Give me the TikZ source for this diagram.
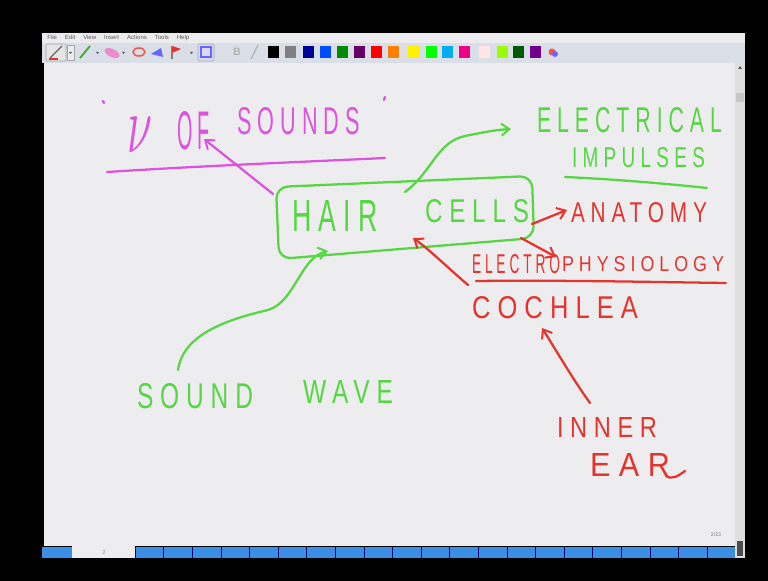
\documentclass[tikz,border=0pt]{standalone}
\usepackage{fontspec}
\setmainfont{Liberation Sans}
\newfontfamily\hwf{Liberation Sans}[LetterSpace=28]
\usetikzlibrary{arrows.meta}
\definecolor{mag}{RGB}{220,84,222}
\definecolor{grn}{RGB}{86,214,66}
\definecolor{rd}{RGB}{228,52,44}
\definecolor{board}{RGB}{237,237,240}
\definecolor{tbar}{RGB}{218,222,230}
\definecolor{mbar}{RGB}{236,236,238}
\definecolor{tabblue}{RGB}{58,142,228}
\newlength\pxu
\setlength\pxu{0.75pt}
\newcommand\hw[3]{\resizebox{#1\pxu}{#2\pxu}{\hwf #3\unskip}}
\tikzset{
  ink/.style={line width=1.7pt, line cap=round, line join=round},
  hand/.style={anchor=north west, inner sep=0pt, outer sep=0pt},
  arr/.style={ink, -{Straight Barb[length=6pt,width=9pt,line width=1.5pt]}},
  tri/.style={fill=gray!70!black}
}
\begin{document}
\begin{tikzpicture}[x=0.75pt,y=-0.75pt]
\useasboundingbox (0,0) rectangle (768,581);
\fill[black] (0,0) rectangle (768,581);
% window
\fill[mbar] (42,33) rectangle (745,43);
\fill[tbar] (42,43) rectangle (745,63);
\fill[board] (44,63) rectangle (735,546);
\fill[gray!25] (735,63) rectangle (745,558);
\fill[gray!45] (736,93) rectangle (744,102);
\fill[tri] (738,69) -- (742,69) -- (740,66) -- cycle;
\fill[gray!60!black] (737,541) rectangle (743,556);
% menu
\node[anchor=west, inner sep=0, font=\fontsize{4.5}{5}\selectfont, text=gray!70!black] (menu) at (47,38)
  {File\hspace{6pt}Edit\hspace{6pt}View\hspace{6pt}Insert\hspace{6pt}Actions\hspace{6pt}Tools\hspace{6pt}Help};
% toolbar icons
\draw[gray!70, fill=gray!20, rounded corners=1pt] (46,44) rectangle (66,61);
\draw[line width=1pt, gray!80!black] (50,58) -- (62,46);
\draw[line width=0.8pt, rd] (49,59) -- (58,59);
\draw[gray!70, fill=gray!15] (67,45) rectangle (74,60);
\fill[tri] (69,52) -- (72,52) -- (70.5,54) -- cycle;
\draw[line width=1.4pt, grn!80!black] (80,58) -- (90,46);
\fill[tri] (96,52) -- (99,52) -- (97.5,54) -- cycle;
\fill[mag!50!pink, rotate around={-25:(112,53)}] (112,53) ellipse (8 and 4);
\fill[tri] (122,52) -- (125,52) -- (123.5,54) -- cycle;
\draw[rd!80, line width=1.2pt] (139,52) ellipse (6 and 4);
\fill[blue!60] (151,54) -- (161,48) -- (163,57) -- cycle;
\draw[line width=0.8pt, gray] (172,59) -- (172,46);
\fill[rd] (172,46) -- (181,49) -- (172,53) -- cycle;
\fill[tri] (190,52) -- (193,52) -- (191.5,54) -- cycle;
\draw[gray!70, fill=blue!15, rounded corners=1pt] (198,44) rectangle (214,61);
\draw[blue!60, line width=1pt] (201,47) rectangle (211,57);
\node[inner sep=0, font=\bfseries\fontsize{8}{8}\selectfont, text=gray!60] (bbtn) at (237,52) {B};
\draw[gray!60, line width=1pt] (251,59) -- (258,45);
% colour swatches
\foreach \x/\c in {273/black,290/gray,308/blue!60!black,325/blue!70!cyan,342/green!55!black,359/violet!80!black,376/red,393/orange,413/yellow,431/green,447/cyan,464/magenta,484/pink!40,502/lime!80!green,518/green!35!black,535/violet!90!blue}
  \fill[\c] (\x-5.5,46) rectangle (\x+5.5,58);
\fill[red!70] (552,52) circle (3.5);
\fill[blue!60] (555,54) circle (3);
% bottom tab bar
\fill[tabblue] (42,547) rectangle (735,558);
\fill[board] (72,546) rectangle (135,558);
\node[inner sep=0, font=\fontsize{4}{4}\selectfont, text=gray] (pg) at (104,553) {2};
\foreach \i in {0,...,20} \draw[blue!40!black, line width=0.4pt] (135+28.6*\i,547) -- (135+28.6*\i,558);
\node[inner sep=0, font=\fontsize{4}{4}\selectfont, text=gray] (pgn) at (716,535) {2/23};

% ---------- magenta ----------
\node[hand, text=mag] (nu) at (127,117) {\resizebox{25\pxu}{35\pxu}{$\nu$}};
\node[hand, text=mag] (of) at (177,112) {\hw{33}{38}{OF}};
\node[hand, text=mag] (sounds) at (237,108) {\hw{123}{27}{SOUNDS}};
\draw[ink, mag] (103,101) -- (104,103);
\draw[ink, mag] (385,97) -- (384,100);
\coordinate (ml) at (107,172);
\coordinate (mr) at (385,158);
\draw[ink, mag] (ml) .. controls (200,166) and (300,162) .. (mr);

% ---------- green ----------
\coordinate (b1) at (276,187);
\coordinate (b2) at (532,176);
\coordinate (b3) at (534,238);
\coordinate (b4) at (279,259);
\draw[ink, grn, rounded corners=9pt] (b1) -- (b2) -- (b3) -- (b4) -- cycle;
\node[hand, text=grn] (hair) at (292,200) {\hw{86}{31}{HAIR}};
\node[hand, text=grn] (cells) at (425,200) {\hw{104}{23}{CELLS}};
\node[hand, text=grn] (elec) at (537,108) {\hw{185}{25}{ELECTRICAL}};
\node[hand, text=grn] (imp) at (572,148) {\hw{133}{20}{IMPULSES}};
\coordinate (il) at (565,177);
\coordinate (ir) at (707,188);
\draw[ink, grn] (il) .. controls (610,179) and (660,183) .. (ir);
\coordinate (g1) at (405,192);
\coordinate (g2) at (511,129);
\draw[arr, grn] (g1) .. controls (432,172) and (437,142) .. (465,136) .. controls (485,132) and (495,130) .. (g2);
\node[hand, text=grn] (sound) at (137,383) {\hw{116}{25}{SOUND}};
\node[hand, text=grn] (wave) at (303,380) {\hw{90}{23}{WAVE}};
\coordinate (s1) at (178,370);
\coordinate (s2) at (328,251);
\draw[arr, grn] (s1) .. controls (183,335) and (225,320) .. (268,310) .. controls (295,302) and (300,258) .. (s2);

% magenta arrow from box to OF
\coordinate (m1) at (273,194);
\coordinate (m2) at (204,139);
\draw[arr, mag] (m1) -- (m2);

% ---------- red ----------
\node[hand, text=rd] (anat) at (571,203) {\hw{136}{20}{ANATOMY}};
\node[hand, text=rd] (electro) at (472,254) {\hw{88}{19}{ELECTRO}};
\node[hand, text=rd] (phys) at (562,257) {\hw{162}{15}{PHYSIOLOGY}};
\node[hand, text=rd] (coch) at (472,296) {\hw{166}{22}{COCHLEA}};
\node[hand, text=rd] (inner) at (557,417) {\hw{100}{20}{INNER}};
\node[hand, text=rd] (ear) at (590,453) {\hw{80}{23}{EAR}};
\draw[ink, rd] (666,476) .. controls (672,480) and (678,476) .. (685,471);
\coordinate (ul) at (476,281);
\coordinate (ur) at (726,283);
\draw[ink, rd] (ul) .. controls (560,280) and (650,282) .. (ur);
\coordinate (r1) at (532,224);
\coordinate (r2) at (567,210);
\draw[arr, rd] (r1) -- (r2);
\coordinate (r3) at (521,238);
\coordinate (r4) at (556,257);
\draw[arr, rd] (r3) -- (r4);
\coordinate (r5) at (468,285);
\coordinate (r6) at (413,238);
\draw[arr, rd] (r5) .. controls (448,268) and (430,250) .. (r6);
\coordinate (r7) at (590,403);
\coordinate (r8) at (542,328);
\draw[arr, rd] (r7) .. controls (572,378) and (556,350) .. (r8);
\end{tikzpicture}
\end{document}
